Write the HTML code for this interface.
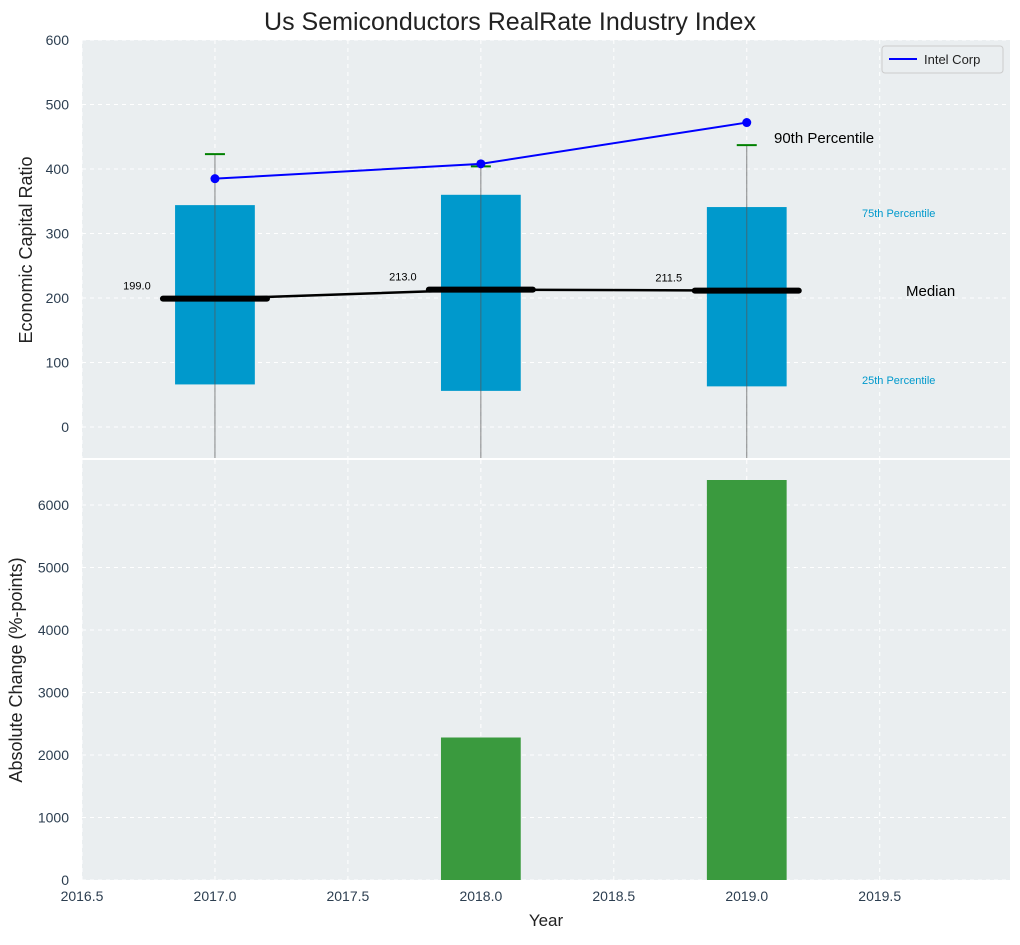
<!DOCTYPE html>
<html><head><meta charset="utf-8"><style>
body{margin:0;background:#fff;font-family:"Liberation Sans",sans-serif}
svg text{font-family:"Liberation Sans",sans-serif}
</style></head><body>
<svg id="c" width="1020" height="940" xmlns="http://www.w3.org/2000/svg"></svg>
<script>
const years=[2017,2018,2019];
const q25=[66,56,63];
const q75=[344,360,341];
const p90=[423,404,437];
const medians=[199,213,211.5];
const medianLabels=["199.0","213.0","211.5"];
const intel=[385,408,472];
const absChange=[0,2280,6400];
const topTicks=[0,100,200,300,400,500,600];
const botTicks=[0,1000,2000,3000,4000,5000,6000];
const xTicks=[2016.5,2017,2017.5,2018,2018.5,2019,2019.5];

const NS="http://www.w3.org/2000/svg";
const svg=document.getElementById('c');
const L=82,R=1010;
const x=v=>L+(v-2016.5)*(R-L)/3.49;
const yT=v=>427-v*0.645;
const yB=v=>880-v*0.0625;
function el(t,a,p){const e=document.createElementNS(NS,t);for(const k in a)e.setAttribute(k,a[k]);(p||svg).appendChild(e);return e;}
function tx(s,a){const e=el('text',a);e.textContent=s;return e;}

let e;
e=el('rect',{x:L,y:40,width:R-L,height:418,fill:'#eaeef0'});


e=el('rect',{x:L,y:460,width:R-L,height:420,fill:'#eaeef0'});



const grid={stroke:'#fff','stroke-dasharray':'4,4','stroke-width':1};
xTicks.forEach(t=>{
  el('line',Object.assign({x1:x(t),x2:x(t),y1:40,y2:458},grid));
  el('line',Object.assign({x1:x(t),x2:x(t),y1:460,y2:880},grid));
  e=tx(t.toFixed(1),{x:x(t),y:901,'text-anchor':'middle','font-size':14,fill:'#2c3e50'});
  
  
});
topTicks.forEach(t=>{
  el('line',Object.assign({x1:L,x2:R,y1:yT(t),y2:yT(t)},grid));
  e=tx(String(t),{x:69,y:yT(t)+5,'text-anchor':'end','font-size':14,fill:'#2c3e50'});
  
  
});
botTicks.forEach(t=>{
  el('line',Object.assign({x1:L,x2:R,y1:yB(t),y2:yB(t)},grid));
  e=tx(String(t),{x:69,y:yB(t)+5,'text-anchor':'end','font-size':14,fill:'#2c3e50'});
  
  
});

const hw=(x(2017.15)-x(2017));
years.forEach((yr,i)=>{
  e=el('rect',{x:x(yr)-hw,y:yT(q75[i]),width:2*hw,height:yT(q25[i])-yT(q75[i]),fill:'#0099cc'});
  
  
  e=el('line',{x1:x(yr),x2:x(yr),y1:458,y2:yT(p90[i]),stroke:'#555','stroke-width':1,'stroke-opacity':0.7});
  
  
  e=el('line',{x1:x(yr)-10,x2:x(yr)+10,y1:yT(p90[i]),y2:yT(p90[i]),stroke:'green','stroke-width':2});
  
  
});
e=el('polyline',{points:years.map((yr,i)=>x(yr)+','+yT(medians[i])).join(' '),fill:'none',stroke:'#000','stroke-width':2.5});


years.forEach((yr,i)=>{
  e=el('line',{x1:x(yr)-52,x2:x(yr)+52,y1:yT(medians[i]),y2:yT(medians[i]),stroke:'#000','stroke-width':6,'stroke-linecap':'round'});
  
  
  e=tx(medianLabels[i],{x:x(yr)-78,y:yT(medians[i])-9,'text-anchor':'middle','font-size':11,fill:'#000'});
  
  
});
e=el('polyline',{points:years.map((yr,i)=>x(yr)+','+yT(intel[i])).join(' '),fill:'none',stroke:'#0000ff','stroke-width':2});


years.forEach((yr,i)=>{
  e=el('circle',{cx:x(yr),cy:yT(intel[i]),r:4.5,fill:'#0000ff'});
  
  
});
years.forEach((yr,i)=>{
  if(!absChange[i])return;
  e=el('rect',{x:x(yr)-hw,y:yB(absChange[i]),width:2*hw,height:880-yB(absChange[i]),fill:'#3a9a3e'});
  
  
});

function lab(s,a,n){const t=tx(s,a);}
lab('90th Percentile',{x:774,y:143,'font-size':15,fill:'#000'},'p90-annotation');
lab('75th Percentile',{x:862,y:217,'font-size':11,fill:'#0099cc'},'p75-annotation');
lab('Median',{x:906,y:296,'font-size':15,fill:'#000'},'median-annotation');
lab('25th Percentile',{x:862,y:384,'font-size':11,fill:'#0099cc'},'p25-annotation');
lab('Us Semiconductors RealRate Industry Index',{x:510,y:30,'text-anchor':'middle','font-size':25,fill:'#222'},'chart-title');
lab('Year',{x:546,y:926,'text-anchor':'middle','font-size':17,fill:'#222'},'x-axis-title');
lab('Economic Capital Ratio',{x:32,y:250,'text-anchor':'middle','font-size':18,fill:'#222',transform:'rotate(-90 32 250)'},'top-y-axis-title');
lab('Absolute Change (%-points)',{x:22,y:670,'text-anchor':'middle','font-size':18,fill:'#222',transform:'rotate(-90 22 670)'},'bottom-y-axis-title');

const g=el('g',{});


el('rect',{x:882,y:46,width:121,height:27,rx:3,fill:'#eaeef0',stroke:'#ccc'},g);
el('line',{x1:889,x2:917,y1:59,y2:59,stroke:'#0000ff','stroke-width':2},g);
const lt=el('text',{x:924,y:64,'font-size':13,fill:'#222'},g);lt.textContent='Intel Corp';
</script>
</body></html>
